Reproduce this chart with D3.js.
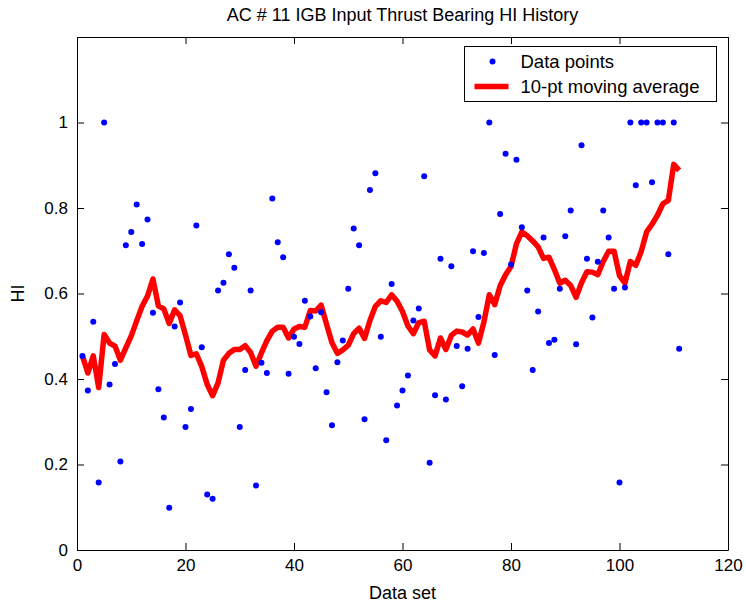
<!DOCTYPE html>
<html>
<head>
<meta charset="utf-8">
<script src="https://cdn.jsdelivr.net/npm/d3@7"></script>
<style>
  body { margin: 0; background: #fff; }
  svg { display: block; }
  text { font-family: "Liberation Sans", Arial, sans-serif; fill: #000; }
</style>
</head>
<body>
<script>
// HI value of each data set (data set number = position + 1)
const hiValues = [
  0.454, 0.373, 0.534, 0.158, 1.000, 0.387, 0.435, 0.207, 0.713, 0.744,
  0.808, 0.716, 0.773, 0.555, 0.376, 0.310, 0.099, 0.523, 0.579, 0.288,
  0.330, 0.759, 0.474, 0.130, 0.120, 0.607, 0.625, 0.692, 0.660, 0.288,
  0.421, 0.607, 0.151, 0.438, 0.414, 0.822, 0.720, 0.685, 0.412, 0.499,
  0.482, 0.583, 0.546, 0.425, 0.556, 0.369, 0.292, 0.439, 0.490, 0.611,
  0.752, 0.713, 0.306, 0.842, 0.881, 0.499, 0.257, 0.622, 0.338, 0.373,
  0.408, 0.537, 0.565, 0.874, 0.204, 0.362, 0.681, 0.352, 0.664, 0.477,
  0.383, 0.471, 0.699, 0.545, 0.695, 1.000, 0.456, 0.786, 0.927, 0.668,
  0.913, 0.755, 0.607, 0.421, 0.558, 0.731, 0.484, 0.492, 0.611, 0.734,
  0.794, 0.481, 0.947, 0.681, 0.544, 0.674, 0.794, 0.731, 0.611, 0.158,
  0.614, 1.000, 0.853, 1.000, 1.000, 0.860, 1.000, 1.000, 0.692, 1.000,
  0.471
]

// 10-pt moving average
const movingAvg = [
  0.454, 0.414, 0.454, 0.380, 0.504, 0.484, 0.477, 0.444, 0.473, 0.501,
  0.536, 0.570, 0.594, 0.634, 0.571, 0.564, 0.530, 0.562, 0.548, 0.503,
  0.455, 0.459, 0.429, 0.387, 0.361, 0.391, 0.444, 0.460, 0.469, 0.469,
  0.478, 0.462, 0.430, 0.461, 0.490, 0.512, 0.521, 0.521, 0.496, 0.517,
  0.523, 0.521, 0.560, 0.559, 0.573, 0.528, 0.485, 0.460, 0.468, 0.479,
  0.506, 0.519, 0.495, 0.537, 0.570, 0.583, 0.579, 0.597, 0.582, 0.558,
  0.524, 0.506, 0.532, 0.535, 0.468, 0.454, 0.496, 0.469, 0.502, 0.512,
  0.510, 0.503, 0.517, 0.484, 0.533, 0.597, 0.574, 0.618, 0.644, 0.663,
  0.716, 0.744, 0.735, 0.723, 0.709, 0.682, 0.685, 0.656, 0.624, 0.631,
  0.619, 0.591, 0.625, 0.651, 0.650, 0.644, 0.675, 0.699, 0.699, 0.642,
  0.624, 0.675, 0.666, 0.698, 0.744, 0.762, 0.783, 0.810, 0.818, 0.902,
  0.888
]

const xTicks = [0, 20, 40, 60, 80, 100, 120]
const yTicks = [0, 0.2, 0.4, 0.6, 0.8, 1]
const legendLabels = ["Data points", "10-pt moving average"]

const width = 746, height = 607
const margin = {top: 37, right: 18, bottom: 57, left: 77}
const tickFont = 17, labelFont = 18, legendFont = 18.5

const svg = d3.select("body")
  .append("svg")
  .attr("width", width)
  .attr("height", height)

const x = d3.scaleLinear()
  .domain([0, 120])
  .range([margin.left, width - margin.right])

const y = d3.scaleLinear()
  .domain([0, 1.2])
  .range([height - margin.bottom, margin.top])

const fmt = d3.format("~g")

/* axes, ticks point inward like matlab */
const xaxis = d3.axisBottom(x).tickValues(xTicks).tickFormat(fmt)
  .tickSizeInner(-7).tickSizeOuter(0).tickPadding(9)
const yaxis = d3.axisLeft(y).tickValues(yTicks).tickFormat(fmt)
  .tickSizeInner(-7).tickSizeOuter(0).tickPadding(9)
const xaxisTop = d3.axisTop(x).tickValues(xTicks).tickFormat("")
  .tickSizeInner(-7).tickSizeOuter(0)
const yaxisRight = d3.axisRight(y).tickValues(yTicks).tickFormat("")
  .tickSizeInner(-7).tickSizeOuter(0)

svg.append("g")
  .attr("class", "axis x")
  .attr("transform", `translate(0,${y(0)})`)
  .call(xaxis)
svg.append("g")
  .attr("class", "axis y")
  .attr("transform", `translate(${x(0)},0)`)
  .call(yaxis)
svg.append("g")
  .attr("transform", `translate(0,${y(1.2)})`)
  .call(xaxisTop)
svg.append("g")
  .attr("transform", `translate(${x(120)},0)`)
  .call(yaxisRight)

svg.selectAll(".tick line").attr("stroke", "#000")
svg.selectAll(".domain").attr("stroke", "#000")
svg.selectAll(".tick text")
  .style("font-size", tickFont + "px")
  .attr("fill", "#000")

/* data */
const line = d3.line()
  .x((d, i) => x(i + 1))
  .y(d => y(d))

svg.append("path")
  .datum(movingAvg)
  .attr("fill", "none")
  .attr("stroke", "#ff0000")
  .attr("stroke-width", 5.5)
  .attr("stroke-linejoin", "round")
  .attr("d", line)

svg.selectAll("circle.dots")
  .data(hiValues)
  .enter().append("circle")
  .attr("class", "dots")
  .attr("fill", "#0000ff")
  .attr("cx", (d, i) => x(i + 1))
  .attr("cy", d => y(d))
  .attr("r", 3)

/* titles */
svg.append("text")
  .attr("x", (x(0) + x(120)) / 2)
  .attr("y", 21)
  .attr("text-anchor", "middle")
  .style("font-size", labelFont + "px")
  .text("AC # 11 IGB Input Thrust Bearing HI History")

svg.append("text")
  .attr("x", (x(0) + x(120)) / 2)
  .attr("y", 599)
  .attr("text-anchor", "middle")
  .style("font-size", labelFont + "px")
  .text("Data set")

svg.append("text")
  .attr("transform", `translate(24,${(y(0) + y(1.2)) / 2}) rotate(-90)`)
  .attr("text-anchor", "middle")
  .style("font-size", labelFont + "px")
  .text("HI")

/* legend */
const lg = svg.append("g").attr("transform", "translate(464.5,46.5)")
lg.append("rect")
  .attr("width", 252)
  .attr("height", 55)
  .attr("fill", "#fff")
  .attr("stroke", "#000")
lg.append("circle")
  .attr("cx", 28).attr("cy", 15).attr("r", 3)
  .attr("fill", "#0000ff")
lg.append("line")
  .attr("x1", 10).attr("x2", 44).attr("y1", 40).attr("y2", 40)
  .attr("stroke", "#ff0000").attr("stroke-width", 5.5)
lg.selectAll("text.lbl")
  .data(legendLabels)
  .enter().append("text")
  .attr("class", "lbl")
  .attr("x", 56)
  .attr("y", (d, i) => 21 + i * 25)
  .style("font-size", legendFont + "px")
  .text(d => d)
</script>
</body>
</html>
